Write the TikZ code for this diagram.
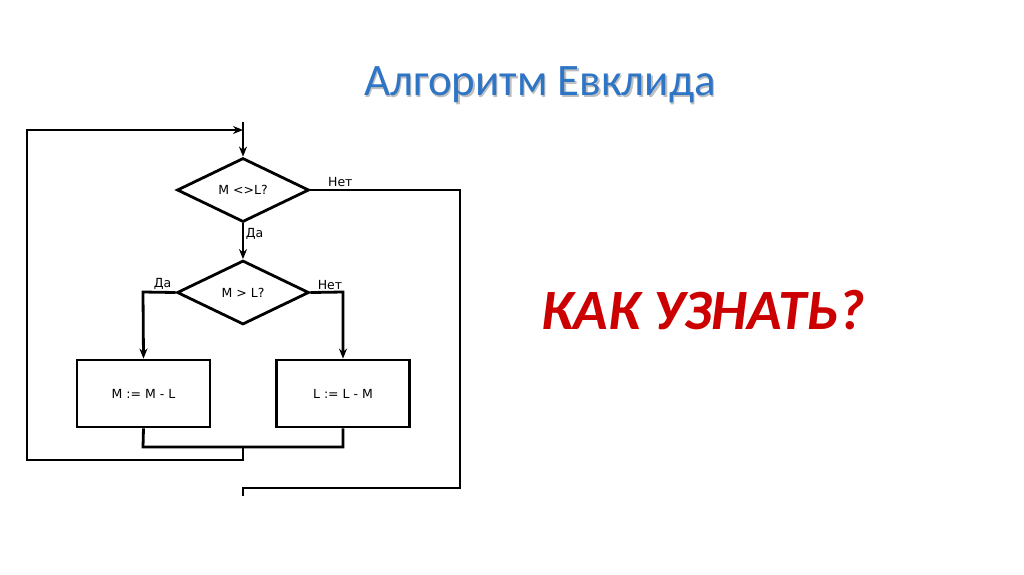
\documentclass[tikz,border=0pt]{standalone}
\usepackage{fontspec}
\setmainfont{Carlito}
\newfontfamily\fc{DejaVu Sans}
\definecolor{ttl}{HTML}{2E75C6}
\begin{document}
\begin{tikzpicture}[x=1pt,y=-1pt,
  ln/.style={line width=2.8pt},
  arr/.style={ln,-{Stealth[length=10pt,width=8pt]}},
  dia/.style={draw,line width=2.8pt,diamond,aspect=2.05,minimum width=132pt,minimum height=64pt,inner sep=0pt,font=\fc\fontsize{12.5}{14}\selectfont},
  box/.style={draw,line width=2.8pt,minimum width=133pt,minimum height=67pt,font=\fc\fontsize{12.5}{14}\selectfont},
  lab/.style={font=\fc\fontsize{12.5}{14}\selectfont,inner sep=1.5pt}]
\usetikzlibrary{shapes.geometric,arrows.meta}
\useasboundingbox (0,0) rectangle (1024,574);
\fill[white] (0,0) rectangle (1024,574);
\node[font=\fontsize{45}{52}\selectfont,text=black!25] at (541.5,86.5) {Алгоритм Евклида};
\node[font=\fontsize{45}{52}\selectfont,text=ttl] (title) at (540,85) {Алгоритм Евклида};
\node[font=\fontsize{57}{64}\selectfont\bfseries\itshape,text=red!80!black] (q) at (703,310) {КАК УЗНАТЬ?};
\node[dia] (d1) at (243,190) {M <>L?};
\node[dia] (d2) at (243,292.5) {M > L?};
\node[box] (b1) at (143.5,393.5) {M := M - L};
\node[box] (b2) at (343,393.5) {L := L - M};
\coordinate (top) at (243,122);
\coordinate (j) at (243,130);
\coordinate (m) at (243,447);
\coordinate (end) at (243,496);
\draw[arr] (top) -- (d1.north);
\draw[arr] (d1.south) -- node[lab,right,pos=0.3]{Да} (d2.north);
\draw[arr] (d2.west) -- node[lab,above,pos=0.4]{Да} (143,292) -- (b1.north);
\draw[arr] (d2.east) -- node[lab,above,pos=0.6]{Нет} (343,292) -- (b2.north);
\draw[ln] (b1.south) -- (143,447) -- (343,447) -- (b2.south);
\draw[arr] (m) -- (243,460) -- (27,460) -- (27,130) -- (j);
\draw[ln] (d1.east) -- node[lab,above,pos=0.2]{Нет} (460,190) -- (460,488) -- (243,488) -- (end);
\end{tikzpicture}
\end{document}
